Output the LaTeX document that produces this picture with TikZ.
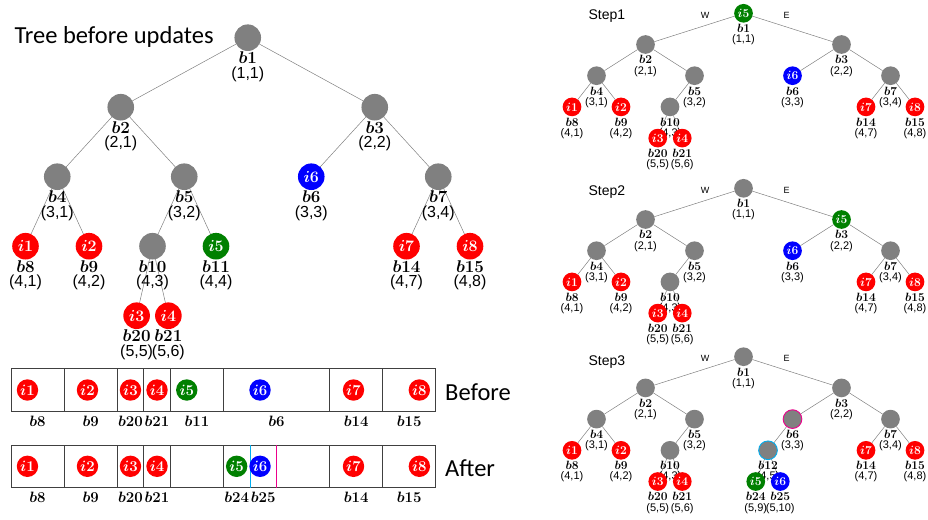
\RequirePackage{fix-cm}
\documentclass[tikz,border=0pt]{standalone}
\usepackage{amsmath}
\usepackage{fontspec}
\setmainfont{Carlito}
\newfontfamily\arial{Liberation Sans}
\usetikzlibrary{backgrounds}

\definecolor{ired}{RGB}{255,0,0}
\definecolor{igreen}{RGB}{0,128,0}
\definecolor{iblue}{RGB}{0,0,255}
\definecolor{bgray}{RGB}{128,128,128}
\newcommand{\fs}[1]{\fontsize{#1}{#1}\selectfont}

\begin{document}
\begin{tikzpicture}[x=1pt,y=-1pt,
    edge/.style={draw=bgray,line width=.5pt},
    rd/.style={fill=ired},
    gn/.style={fill=igreen},
    bl/.style={fill=iblue},
    big/.style={circle,fill=bgray,minimum size=26.6pt,inner sep=0pt,outer sep=0pt,text=white,font=\fs{16}},
    small/.style={circle,fill=bgray,minimum size=18.7pt,inner sep=0pt,outer sep=0pt,text=white,font=\fs{12}},
    item/.style={circle,minimum size=21.4pt,inner sep=0pt,text=white,font=\fs{15}},
    bigtree/.style 2 args={label={[font=\fs{17},inner sep=0pt,label distance=.8pt]below:$\boldsymbol{#1}$},
      label={[font=\fs{16}\arial,inner sep=0pt,label distance=15.5pt]below:{#2}}},
    smalltree/.style 2 args={label={[font=\fs{12},inner sep=0pt,label distance=1.5pt]below:$\boldsymbol{#1}$},
      label={[font=\fs{11}\arial,inner sep=0pt,label distance=12pt]below:{#2}}},
    bar/.style={draw=black!75,line width=.9pt},
    bname/.style={font=\fs{15}},
    title/.style={font=\fs{24.5},anchor=base west},
    steptext/.style={font=\fs{14}\arial,anchor=base west},
    dir/.style={font=\fs{9}\arial,anchor=base}]
  \useasboundingbox (0,0) rectangle (928,519);

  % tree before updates
  \node[title] (tname) at (11,43.3) {Tree before updates};
  \begin{scope}[shift={(25.5,37.7)},x=31.75pt,y=-69.5pt]
    \node[big,bigtree={b1}{(1,1)}] (b1) at (7,0) {};
    \node[big,bigtree={b2}{(2,1)}] (b2) at (3,1) {};
    \node[big,bigtree={b3}{(2,2)}] (b3) at (11,1) {};
    \node[big,bigtree={b4}{(3,1)}] (b4) at (1,2) {};
    \node[big,bigtree={b5}{(3,2)}] (b5) at (5,2) {};
    \node[big,bl,bigtree={b6}{(3,3)}] (b6) at (9,2) {$\boldsymbol{i6}$};
    \node[big,bigtree={b7}{(3,4)}] (b7) at (13,2) {};
    \node[big,rd,bigtree={b8}{(4,1)}] (b8) at (0,3) {$\boldsymbol{i1}$};
    \node[big,rd,bigtree={b9}{(4,2)}] (b9) at (2,3) {$\boldsymbol{i2}$};
    \node[big,bigtree={b10}{(4,3)}] (b10) at (4,3) {};
    \node[big,gn,bigtree={b11}{(4,4)}] (b11) at (6,3) {$\boldsymbol{i5}$};
    \node[big,rd,bigtree={b14}{(4,7)}] (b14) at (12,3) {$\boldsymbol{i7}$};
    \node[big,rd,bigtree={b15}{(4,8)}] (b15) at (14,3) {$\boldsymbol{i8}$};
    \node[big,rd,bigtree={b20}{(5,5)}] (b20) at (3.5,4) {$\boldsymbol{i3}$};
    \node[big,rd,bigtree={b21}{(5,6)}] (b21) at (4.5,4) {$\boldsymbol{i4}$};
    \begin{scope}[on background layer]
      \draw[edge] (b1) -- (b2);
      \draw[edge] (b1) -- (b3);
      \draw[edge] (b2) -- (b4);
      \draw[edge] (b2) -- (b5);
      \draw[edge] (b3) -- (b6);
      \draw[edge] (b3) -- (b7);
      \draw[edge] (b4) -- (b8);
      \draw[edge] (b4) -- (b9);
      \draw[edge] (b5) -- (b10);
      \draw[edge] (b5) -- (b11);
      \draw[edge] (b7) -- (b14);
      \draw[edge] (b7) -- (b15);
      \draw[edge] (b10) -- (b20);
      \draw[edge] (b10) -- (b21);
    \end{scope}
  \end{scope}

  % the two bars
  \node[title] (before) at (441.7,400) {Before};
  \node[title] (after) at (441.7,476) {After};
  \begin{scope}[shift={(11,0)},x=26.55pt]
    \draw[bar] (0,368.3) rectangle (16,411.7);
    \draw[bar] (2,368.3) -- (2,411.7);
    \draw[bar] (4,368.3) -- (4,411.7);
    \draw[bar] (5,368.3) -- (5,411.7);
    \draw[bar] (6,368.3) -- (6,411.7);
    \draw[bar] (8,368.3) -- (8,411.7);
    \draw[bar] (12,368.3) -- (12,411.7);
    \draw[bar] (14,368.3) -- (14,411.7);

    \node[item,rd] (p1) at (.62,390) {$\boldsymbol{i1}$};
    \node[item,rd] (p2) at (2.88,390) {$\boldsymbol{i2}$};
    \node[item,rd] (p3) at (4.5,390) {$\boldsymbol{i3}$};
    \node[item,rd] (p4) at (5.5,390) {$\boldsymbol{i4}$};
    \node[item,gn] (p5) at (6.62,390) {$\boldsymbol{i5}$};
    \node[item,bl] (p6) at (9.38,390) {$\boldsymbol{i6}$};
    \node[item,rd] (p7) at (12.9,390) {$\boldsymbol{i7}$};
    \node[item,rd] (p8) at (15.38,390) {$\boldsymbol{i8}$};

    \node[bname] (n8) at (1,421.7) {$\boldsymbol{b8}$};
    \node[bname] (n9) at (3,421.7) {$\boldsymbol{b9}$};
    \node[bname] (n20) at (4.5,421.7) {$\boldsymbol{b20}$};
    \node[bname] (n21) at (5.5,421.7) {$\boldsymbol{b21}$};
    \node[bname] (n11) at (7,421.7) {$\boldsymbol{b11}$};
    \node[bname] (n6) at (10,421.7) {$\boldsymbol{b6}$};
    \node[bname] (n14) at (13,421.7) {$\boldsymbol{b14}$};
    \node[bname] (n15) at (15,421.7) {$\boldsymbol{b15}$};

    \draw[bar] (0,445) rectangle (16,487.7);
    \draw[bar] (2,445) -- (2,487.7);
    \draw[bar] (4,445) -- (4,487.7);
    \draw[bar] (5,445) -- (5,487.7);
    \draw[bar] (6,445) -- (6,487.7);
    \draw[bar] (8,445) -- (8,487.7);
    \draw[bar] (12,445) -- (12,487.7);
    \draw[bar] (14,445) -- (14,487.7);
    \draw[cyan,line width=.8pt] (9,445) -- (9,487.7);
    \draw[magenta,line width=.8pt] (10,445) -- (10,487.7);

    \node[item,rd] (q1) at (.62,466.3) {$\boldsymbol{i1}$};
    \node[item,rd] (q2) at (2.88,466.3) {$\boldsymbol{i2}$};
    \node[item,rd] (q3) at (4.5,466.3) {$\boldsymbol{i3}$};
    \node[item,rd] (q4) at (5.5,466.3) {$\boldsymbol{i4}$};
    \node[item,gn] (q5) at (8.5,466.3) {$\boldsymbol{i5}$};
    \node[item,bl] (q6) at (9.38,466.3) {$\boldsymbol{i6}$};
    \node[item,rd] (q7) at (12.9,466.3) {$\boldsymbol{i7}$};
    \node[item,rd] (q8) at (15.38,466.3) {$\boldsymbol{i8}$};

    \node[bname] (m8) at (1,497.7) {$\boldsymbol{b8}$};
    \node[bname] (m9) at (3,497.7) {$\boldsymbol{b9}$};
    \node[bname] (m20) at (4.5,497.7) {$\boldsymbol{b20}$};
    \node[bname] (m21) at (5.5,497.7) {$\boldsymbol{b21}$};
    \node[bname] (m24) at (8.5,497.7) {$\boldsymbol{b24}$};
    \node[bname] (m25) at (9.5,497.7) {$\boldsymbol{b25}$};
    \node[bname] (m14) at (13,497.7) {$\boldsymbol{b14}$};
    \node[bname] (m15) at (15,497.7) {$\boldsymbol{b15}$};
  \end{scope}

  % step 1
  \node[steptext] (st1) at (585,19.3) {Step1};
  \node[dir] (w1) at (705,18.3) {W};
  \node[dir] (e1) at (786.7,18.3) {E};
  \begin{scope}[shift={(572,13.3)},x=24.5pt,y=-31.2pt]
    \node[small,gn,smalltree={b1}{(1,1)}] (s1b1) at (7,0) {$\boldsymbol{i5}$};
    \node[small,smalltree={b2}{(2,1)}] (s1b2) at (3,1) {};
    \node[small,smalltree={b3}{(2,2)}] (s1b3) at (11,1) {};
    \node[small,smalltree={b4}{(3,1)}] (s1b4) at (1,2) {};
    \node[small,smalltree={b5}{(3,2)}] (s1b5) at (5,2) {};
    \node[small,bl,smalltree={b6}{(3,3)}] (s1b6) at (9,2) {$\boldsymbol{i6}$};
    \node[small,smalltree={b7}{(3,4)}] (s1b7) at (13,2) {};
    \node[small,rd,smalltree={b8}{(4,1)}] (s1b8) at (0,3) {$\boldsymbol{i1}$};
    \node[small,rd,smalltree={b9}{(4,2)}] (s1b9) at (2,3) {$\boldsymbol{i2}$};
    \node[small,smalltree={b10}{(4,3)}] (s1b10) at (4,3) {};
    \node[small,rd,smalltree={b14}{(4,7)}] (s1b14) at (12,3) {$\boldsymbol{i7}$};
    \node[small,rd,smalltree={b15}{(4,8)}] (s1b15) at (14,3) {$\boldsymbol{i8}$};
    \node[small,rd,smalltree={b20}{(5,5)}] (s1b20) at (3.5,4) {$\boldsymbol{i3}$};
    \node[small,rd,smalltree={b21}{(5,6)}] (s1b21) at (4.5,4) {$\boldsymbol{i4}$};
    \begin{scope}[on background layer]
      \draw[edge] (s1b1) -- (s1b2);
      \draw[edge] (s1b1) -- (s1b3);
      \draw[edge] (s1b2) -- (s1b4);
      \draw[edge] (s1b2) -- (s1b5);
      \draw[edge] (s1b3) -- (s1b6);
      \draw[edge] (s1b3) -- (s1b7);
      \draw[edge] (s1b4) -- (s1b8);
      \draw[edge] (s1b4) -- (s1b9);
      \draw[edge] (s1b5) -- (s1b10);
      \draw[edge] (s1b7) -- (s1b14);
      \draw[edge] (s1b7) -- (s1b15);
      \draw[edge] (s1b10) -- (s1b20);
      \draw[edge] (s1b10) -- (s1b21);
    \end{scope}
  \end{scope}

  % step 2
  \node[steptext] (st2) at (585,195) {Step2};
  \node[dir] (w2) at (705,193.3) {W};
  \node[dir] (e2) at (786.7,193.3) {E};
  \begin{scope}[shift={(572,188.3)},x=24.5pt,y=-31.2pt]
    \node[small,smalltree={b1}{(1,1)}] (s2b1) at (7,0) {};
    \node[small,smalltree={b2}{(2,1)}] (s2b2) at (3,1) {};
    \node[small,gn,smalltree={b3}{(2,2)}] (s2b3) at (11,1) {$\boldsymbol{i5}$};
    \node[small,smalltree={b4}{(3,1)}] (s2b4) at (1,2) {};
    \node[small,smalltree={b5}{(3,2)}] (s2b5) at (5,2) {};
    \node[small,bl,smalltree={b6}{(3,3)}] (s2b6) at (9,2) {$\boldsymbol{i6}$};
    \node[small,smalltree={b7}{(3,4)}] (s2b7) at (13,2) {};
    \node[small,rd,smalltree={b8}{(4,1)}] (s2b8) at (0,3) {$\boldsymbol{i1}$};
    \node[small,rd,smalltree={b9}{(4,2)}] (s2b9) at (2,3) {$\boldsymbol{i2}$};
    \node[small,smalltree={b10}{(4,3)}] (s2b10) at (4,3) {};
    \node[small,rd,smalltree={b14}{(4,7)}] (s2b14) at (12,3) {$\boldsymbol{i7}$};
    \node[small,rd,smalltree={b15}{(4,8)}] (s2b15) at (14,3) {$\boldsymbol{i8}$};
    \node[small,rd,smalltree={b20}{(5,5)}] (s2b20) at (3.5,4) {$\boldsymbol{i3}$};
    \node[small,rd,smalltree={b21}{(5,6)}] (s2b21) at (4.5,4) {$\boldsymbol{i4}$};
    \begin{scope}[on background layer]
      \draw[edge] (s2b1) -- (s2b2);
      \draw[edge] (s2b1) -- (s2b3);
      \draw[edge] (s2b2) -- (s2b4);
      \draw[edge] (s2b2) -- (s2b5);
      \draw[edge] (s2b3) -- (s2b6);
      \draw[edge] (s2b3) -- (s2b7);
      \draw[edge] (s2b4) -- (s2b8);
      \draw[edge] (s2b4) -- (s2b9);
      \draw[edge] (s2b5) -- (s2b10);
      \draw[edge] (s2b7) -- (s2b14);
      \draw[edge] (s2b7) -- (s2b15);
      \draw[edge] (s2b10) -- (s2b20);
      \draw[edge] (s2b10) -- (s2b21);
    \end{scope}
  \end{scope}

  % step 3
  \node[steptext] (st3) at (585,365) {Step3};
  \node[dir] (w3) at (705,361.7) {W};
  \node[dir] (e3) at (786.7,361.7) {E};
  \begin{scope}[shift={(572,356.7)},x=24.5pt,y=-31.2pt]
    \node[small,smalltree={b1}{(1,1)}] (s3b1) at (7,0) {};
    \node[small,smalltree={b2}{(2,1)}] (s3b2) at (3,1) {};
    \node[small,smalltree={b3}{(2,2)}] (s3b3) at (11,1) {};
    \node[small,smalltree={b4}{(3,1)}] (s3b4) at (1,2) {};
    \node[small,smalltree={b5}{(3,2)}] (s3b5) at (5,2) {};
    \node[small,draw=magenta,line width=.9pt,smalltree={b6}{(3,3)}] (s3b6) at (9,2) {};
    \node[small,smalltree={b7}{(3,4)}] (s3b7) at (13,2) {};
    \node[small,rd,smalltree={b8}{(4,1)}] (s3b8) at (0,3) {$\boldsymbol{i1}$};
    \node[small,rd,smalltree={b9}{(4,2)}] (s3b9) at (2,3) {$\boldsymbol{i2}$};
    \node[small,smalltree={b10}{(4,3)}] (s3b10) at (4,3) {};
    \node[small,draw=cyan,line width=.9pt,smalltree={b12}{(4,5)}] (s3b12) at (8,3) {};
    \node[small,rd,smalltree={b14}{(4,7)}] (s3b14) at (12,3) {$\boldsymbol{i7}$};
    \node[small,rd,smalltree={b15}{(4,8)}] (s3b15) at (14,3) {$\boldsymbol{i8}$};
    \node[small,rd,smalltree={b20}{(5,5)}] (s3b20) at (3.5,4) {$\boldsymbol{i3}$};
    \node[small,rd,smalltree={b21}{(5,6)}] (s3b21) at (4.5,4) {$\boldsymbol{i4}$};
    \node[small,gn,smalltree={b24}{(5,9)}] (s3b24) at (7.5,4) {$\boldsymbol{i5}$};
    \node[small,bl,smalltree={b25}{(5,10)}] (s3b25) at (8.5,4) {$\boldsymbol{i6}$};
    \begin{scope}[on background layer]
      \draw[edge] (s3b1) -- (s3b2);
      \draw[edge] (s3b1) -- (s3b3);
      \draw[edge] (s3b2) -- (s3b4);
      \draw[edge] (s3b2) -- (s3b5);
      \draw[edge] (s3b3) -- (s3b6);
      \draw[edge] (s3b3) -- (s3b7);
      \draw[edge] (s3b4) -- (s3b8);
      \draw[edge] (s3b4) -- (s3b9);
      \draw[edge] (s3b5) -- (s3b10);
      \draw[edge] (s3b6) -- (s3b12);
      \draw[edge] (s3b7) -- (s3b14);
      \draw[edge] (s3b7) -- (s3b15);
      \draw[edge] (s3b10) -- (s3b20);
      \draw[edge] (s3b10) -- (s3b21);
      \draw[edge] (s3b12) -- (s3b24);
      \draw[edge] (s3b12) -- (s3b25);
    \end{scope}
  \end{scope}
\end{tikzpicture}
\end{document}
